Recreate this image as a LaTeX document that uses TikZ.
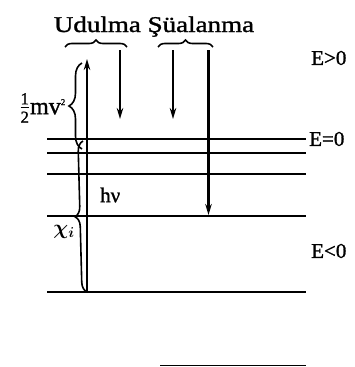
\documentclass[tikz,border=0pt]{standalone}
\usepackage{amsmath}
\usepackage{fontspec}
\setmainfont[FakeBold=1.2]{Liberation Serif}
\usetikzlibrary{arrows.meta,decorations.pathreplacing}
\begin{document}
\begin{tikzpicture}[x=1pt,y=-1pt,
  level/.style={line width=2.4pt},
  trans/.style={line width=2.3pt,-{Stealth[length=11pt,width=6.5pt]}},
  brc/.style={decorate,decoration={brace,amplitude=#1},line width=1.6pt},
  lbl/.style={inner sep=0pt,font=\fontsize{21}{24}\selectfont}]
\useasboundingbox (0,0) rectangle (355,367);
% energy levels
\coordinate (l1a) at (47,139); \coordinate (l1b) at (306,139);
\coordinate (l2a) at (47,153); \coordinate (l2b) at (306,153);
\coordinate (l3a) at (47,174); \coordinate (l3b) at (306,174);
\coordinate (l4a) at (47,216); \coordinate (l4b) at (306,216);
\coordinate (l5a) at (47,292); \coordinate (l5b) at (306,292);
\coordinate (l6a) at (160,365.5); \coordinate (l6b) at (306,365.5);
\draw[level] (l1a) -- (l1b);
\draw[level] (l2a) -- (l2b);
\draw[level] (l3a) -- (l3b);
\draw[level] (l4a) -- (l4b);
\draw[level] (l5a) -- (l5b);
\draw[line width=1.4pt] (l6a) -- (l6b);
% transitions
\coordinate (upS) at (87,292); \coordinate (upE) at (87,59);
\draw[trans] (upS) -- (upE);
\coordinate (d1S) at (120,50); \coordinate (d1E) at (120,119);
\draw[trans] (d1S) -- (d1E);
\coordinate (d2S) at (173,50); \coordinate (d2E) at (173,119);
\draw[trans] (d2S) -- (d2E);
\coordinate (d3S) at (208.5,50); \coordinate (d3E) at (208.5,215);
\draw[trans] (d3S) -- (d3E);
% top braces and title
\coordinate (b1a) at (65,47); \coordinate (b1b) at (127,47);
\draw[brc=7pt] (b1a) -- (b1b);
\coordinate (b2a) at (158,47); \coordinate (b2b) at (213,47);
\draw[brc=7pt] (b2a) -- (b2b);
\node[lbl,anchor=base,xscale=1.2,font=\fontsize{22.5}{26}\selectfont] (title) at (154,32) {Udulma Şüalanma};
% side braces
\coordinate (k1a) at (82,149); \coordinate (k1b) at (82,63);
\draw[brc=13pt] (k1a) -- (k1b);
\coordinate (k2a) at (87,292); \coordinate (k2b) at (83,141);
\draw[brc=10pt] (k2a) -- (k2b);
\node[lbl,anchor=east,font=\fontsize{24}{26}\selectfont] (kin) at (66,108) {$\frac{\text{1}}{\text{2}}$mv\textsuperscript{\fontsize{9}{9}\selectfont 2}};
\node[lbl,anchor=center] (chi) at (64,232) {$\boldsymbol{\chi_i}$};
\node[lbl,anchor=west] (hnu) at (100,195) {hν};
% labels
\node[lbl,anchor=west] (Epos) at (311,58) {E>0};
\node[lbl,anchor=west] (Ezero) at (309,139) {E=0};
\node[lbl,anchor=west] (Eneg) at (311,251) {E<0};
\end{tikzpicture}
\end{document}
